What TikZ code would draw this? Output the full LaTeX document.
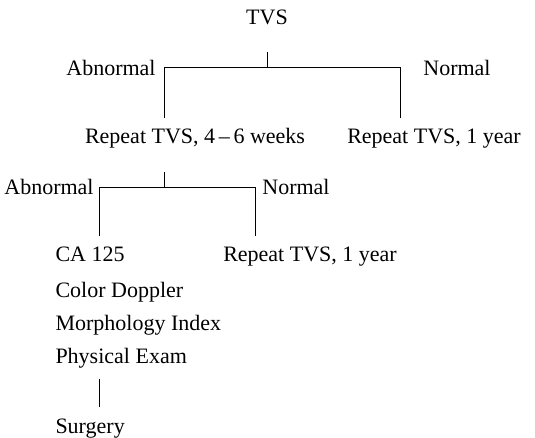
\documentclass[tikz,border=0pt]{standalone}
\usepackage{fontspec}
\setmainfont{Liberation Serif}
\begin{document}
\begin{tikzpicture}[x=0.5pt,y=-0.5pt,line width=0.5pt,
    txt/.style={inner xsep=0pt,inner ysep=5.3pt,anchor=base,font=\fontsize{11}{13}\selectfont},
    lft/.style={txt,anchor=base west}]
    \useasboundingbox (0,0) rectangle (535,438);

    % Premier examen
    \node[txt] (tvs) at (267,25) {TVS};
    \node[txt] (abn1) at (111,76) {Abnormal};
    \node[txt] (nor1) at (457,76) {Normal};
    \node[txt] (rep1) at (195,144) {Repeat TVS, 4\,--\,6 weeks};
    \node[txt] (yr1) at (434,144) {Repeat TVS, 1 year};

    % Second examen
    \node[txt] (abn2) at (49,195) {Abnormal};
    \node[txt] (nor2) at (296,195) {Normal};
    \node[lft] (ca) at (55,262) {CA 125};
    \node[txt] (yr2) at (310,262) {Repeat TVS, 1 year};
    \node[lft] (dop) at (55,297) {Color Doppler};
    \node[lft] (morph) at (55,330) {Morphology Index};
    \node[lft] (phys) at (55,363) {Physical Exam};
    \node[lft] (surg) at (55,433) {Surgery};

    % Branches
    \coordinate (h1) at (267,52);
    \coordinate (l1) at (164,68);
    \coordinate (r1) at (400,68);
    \draw (h1) -- (h1 |- l1);
    \draw (l1 |- rep1.north) -- (l1) -- (r1) -- (r1 |- yr1.north);

    \coordinate (h2) at (164,172);
    \coordinate (l2) at (99,188);
    \coordinate (r2) at (255,188);
    \draw (h2) -- (h2 |- l2);
    \draw (l2 |- ca.north) -- (l2) -- (r2) -- (r2 |- yr2.north);

    \draw (l2 |- phys.south) -- (l2 |- surg.north);
\end{tikzpicture}
\end{document}
